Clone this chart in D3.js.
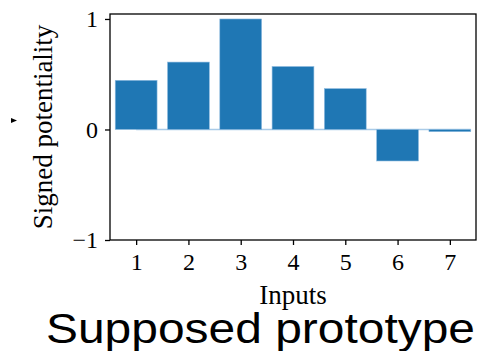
<!DOCTYPE html>
<html lang="en">
<head>
  <meta charset="UTF-8">
  <title>Supposed prototype</title>
  <style>
    body { margin: 0; padding: 0; background: #fff; }
    svg { display: block; }
    .tick text { font-family: "Liberation Serif", "DejaVu Serif", serif; }
  </style>
</head>
<body>
<svg width="477" height="351"></svg>
<script src="https://d3js.org/d3.v7.min.js"></script>
<script>
// chart data
const inputs = [1, 2, 3, 4, 5, 6, 7];
const potentiality = [0.445, 0.61, 1.0, 0.57, 0.37, -0.285, -0.02];
const yTicks = [-1, 0, 1];

const margin = {top: 14, right: 1, bottom: 111, left: 110},
      width = 477 - margin.left - margin.right,
      height = 351 - margin.top - margin.bottom;

const svg = d3.select("svg");
svg.append("rect").attr("width", 477).attr("height", 351).attr("fill", "#fff");

const g = svg.append("g")
  .attr("transform", "translate(" + margin.left + "," + margin.top + ")");

const x = d3.scaleLinear().domain([0.5, 7.5]).range([0, width]);
const y = d3.scaleLinear().domain([-1, 1.045]).range([height, 0]);
const barW = x(0.8) - x(0);

// faint zero line under the bars
g.append("line")
  .attr("x1", x(1)).attr("x2", x(7.4))
  .attr("y1", y(0)).attr("y2", y(0))
  .attr("stroke", "#a9cbe8")
  .attr("stroke-width", 1.5);

g.selectAll("rect.bar")
  .data(potentiality)
  .enter().append("rect")
  .attr("class", "bar")
  .attr("x", (d, i) => x(inputs[i]) - barW / 2)
  .attr("width", barW)
  .attr("y", d => y(Math.max(0, d)))
  .attr("height", d => Math.max(1.5, Math.abs(y(d) - y(0))))
  .attr("fill", "#1f77b4")
  .attr("stroke", "#8fbbe0")
  .attr("stroke-width", 0.6);

// axes
const xAxis = g.append("g")
  .attr("transform", "translate(0," + height + ")")
  .call(d3.axisBottom(x).tickValues(inputs).tickSize(5).tickPadding(8).tickFormat(d3.format("d")));
xAxis.select(".domain").remove();
xAxis.selectAll("line").attr("stroke", "#000").attr("stroke-width", 1.3);
xAxis.selectAll("text").attr("font-size", 24).attr("fill", "#000");

const yAxis = g.append("g")
  .call(d3.axisLeft(y).tickValues(yTicks).tickSize(5).tickPadding(7)
    .tickFormat(d => d < 0 ? "\u2212" + Math.abs(d) : d));
yAxis.select(".domain").remove();
yAxis.selectAll("line").attr("stroke", "#000").attr("stroke-width", 1.3);
yAxis.selectAll("text").attr("font-size", 24).attr("fill", "#000");

// frame
g.append("rect")
  .attr("width", width).attr("height", height)
  .attr("fill", "none")
  .attr("stroke", "#000")
  .attr("stroke-width", 1.3);

// labels
g.append("text")
  .attr("x", width / 2)
  .attr("y", height + 64)
  .attr("text-anchor", "middle")
  .attr("font-family", "Liberation Serif, DejaVu Serif, serif")
  .attr("font-size", 27)
  .text("Inputs");

svg.append("text")
  .attr("transform", "translate(52," + (margin.top + height / 2) + ") rotate(-90)")
  .attr("text-anchor", "middle")
  .attr("font-family", "Liberation Serif, DejaVu Serif, serif")
  .attr("font-size", 27)
  .text("Signed potentiality");

// small stray marker left of the y label
svg.append("path")
  .attr("d", "M11,118 L17,120.5 L11,123 Z")
  .attr("fill", "#000");

svg.append("text")
  .attr("x", 46)
  .attr("y", 343)
  .attr("textLength", 429)
  .attr("lengthAdjust", "spacingAndGlyphs")
  .attr("font-family", "Liberation Sans, Arial, sans-serif")
  .attr("font-size", 43)
  .text("Supposed prototype");
</script>
</body>
</html>
